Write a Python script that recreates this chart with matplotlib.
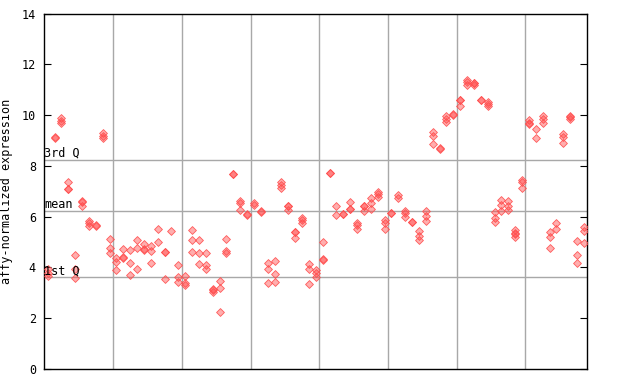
import matplotlib
matplotlib.use("Agg")
import matplotlib.pyplot as plt
import numpy as np

# values per sample column, replicates listed together
cols = [
    [3.92, 3.8, 3.68],
    [9.1, 9.12],
    [9.88, 9.78, 9.68],
    [7.36, 7.09, 7.1],
    [4.48, 3.95, 3.6],
    [6.6, 6.58, 6.42],
    [5.84, 5.74, 5.64],
    [5.68, 5.65],
    [9.28, 9.18, 9.09],
    [5.1, 4.76, 4.55],
    # group 2
    [4.37, 4.22, 3.89],
    [4.72, 4.4, 4.38],
    [4.67, 4.16, 3.72],
    [5.08, 4.75, 3.92],
    [4.92, 4.7, 4.71],
    [4.84, 4.63, 4.19],
    [5.5, 5.02],
    [4.62, 4.6, 3.53],
    [5.45],
    [4.08, 3.61, 3.41],
    # group 3
    [3.66, 3.4, 3.3],
    [5.47, 5.07, 4.6],
    [5.07, 4.56, 4.14],
    [4.56, 4.1, 3.93],
    [3.14, 3.12, 3.05],
    [3.47, 3.18, 2.24],
    [5.11, 4.65, 4.56],
    [7.69, 7.67],
    [6.63, 6.52, 6.25],
    [6.1, 6.08],
    # group 4
    [6.55, 6.46],
    [6.22, 6.2],
    [4.16, 3.93, 3.38],
    [4.25, 3.73, 3.41],
    [7.38, 7.25, 7.12],
    [6.43, 6.41, 6.28],
    [5.41, 5.39, 5.17],
    [5.96, 5.87, 5.76],
    [4.12, 3.93, 3.34],
    [3.9, 3.79, 3.64],
    # group 5
    [4.99, 4.32, 4.3],
    [7.72, 7.7],
    [6.4, 6.05],
    [6.11, 6.09],
    [6.56, 6.31, 6.29],
    [5.76, 5.66, 5.5],
    [6.43, 6.41, 6.24],
    [6.72, 6.52, 6.31],
    [6.98, 6.88, 6.79],
    [5.87, 5.76, 5.5],
    # group 6
    [6.15, 6.13],
    [6.85, 6.74],
    [6.22, 6.13, 5.97],
    [5.8, 5.78],
    [5.45, 5.24, 5.08],
    [6.24, 6.03, 5.83],
    [9.35, 9.19, 8.85],
    [8.7, 8.68],
    [9.98, 9.83, 9.74],
    [10.04, 10.02],
    # group 7
    [10.61, 10.6, 10.37],
    [11.38, 11.29, 11.2],
    [11.28, 11.27, 11.2],
    [10.6, 10.58],
    [10.53, 10.43, 10.35],
    [6.18, 5.93, 5.8],
    [6.66, 6.46, 6.22],
    [6.63, 6.42, 6.26],
    [5.47, 5.34, 5.32, 5.21],
    [7.44, 7.35, 7.14],
    # group 8
    [9.8, 9.7, 9.66],
    [9.44, 9.09],
    [9.96, 9.85, 9.7],
    [5.38, 5.2, 4.75],
    [5.73, 5.5],
    [9.26, 9.15, 8.89],
    [9.96, 9.94, 9.85],
    [5.03, 4.48, 4.16],
    [5.58, 5.44, 4.95],
]

q3 = 8.23
mean_val = 6.22
q1 = 3.61
group_size = 10

xs = []
ys = []
for i, c in enumerate(cols):
    for v in c:
        xs.append(i)
        ys.append(v)

plt.rcParams['font.family'] = 'DejaVu Sans Mono'
fig = plt.figure(figsize=(6.4, 3.84), dpi=100)
ax = fig.add_axes([0.0692, 0.0391, 0.9177 - 0.0692, 0.9648 - 0.0391])

n = len(cols)
ax.set_xlim(-0.5, n - 0.5)
ax.set_ylim(0, 14)

gc = '#a8a8a8'
for b in range(group_size, n, group_size):
    ax.axvline(b - 0.5, color=gc, lw=1, zorder=1)
for q in [q3, mean_val, q1]:
    ax.axhline(q, color=gc, lw=1, zorder=1)

ax.scatter(xs, ys, marker='D', s=16, facecolor=(1, 0.3, 0.3, 0.45),
           edgecolor=(1, 0.3, 0.3, 0.9), linewidths=0.6, zorder=3)

ax.text(-0.5, q3, '3rd Q', fontsize=8.5, va='bottom', ha='left')
ax.text(-0.5, mean_val, 'mean', fontsize=8.5, va='bottom', ha='left')
ax.text(-0.5, q1, '1st Q', fontsize=8.5, va='bottom', ha='left')

ax.set_yticks(np.arange(0, 15, 2))
ax.set_xticks([])
ax.tick_params(axis='y', direction='in', length=5, labelsize=8.5,
               right=True, pad=6)
ax.set_ylabel('affy-normalized expression', fontsize=8.5, labelpad=6)
for s in ax.spines.values():
    s.set_linewidth(1)

fig.savefig('out.png', dpi=100)
